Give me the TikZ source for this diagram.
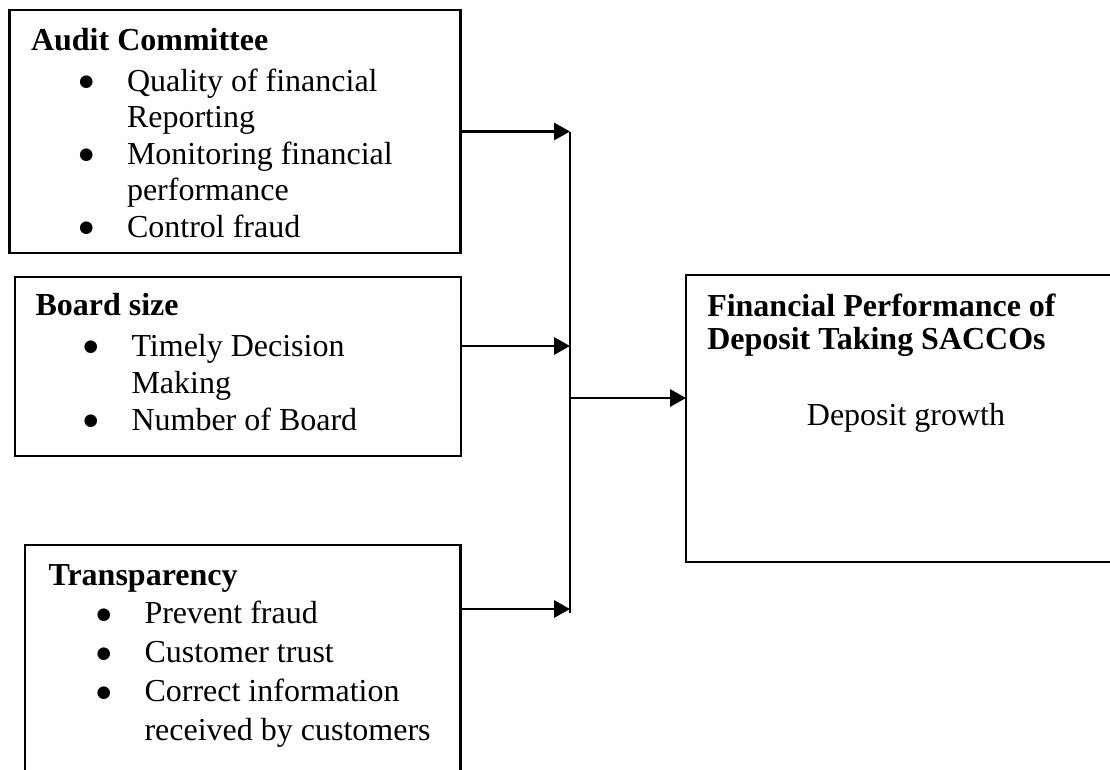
\documentclass[tikz,border=0pt]{standalone}
\usepackage{fontspec}
\setmainfont{Liberation Serif}
\newfontfamily\symfont{DejaVu Sans}
\usetikzlibrary{arrows.meta}
\newcommand{\bigbul}{\raisebox{1.6pt}{\symfont\fontsize{6.2}{6.2}\selectfont ●}}
\newcommand{\bul}[1]{\hspace*{18pt}\makebox[18pt][l]{\bigbul}#1}
\newcommand{\cont}[1]{\hspace*{36pt}#1}
\tikzset{
  box/.style={draw, line width=0.8pt, anchor=north west, outer sep=0pt, inner sep=0pt},
  txt/.style={anchor=base west, inner sep=0pt},
  arr/.style={line width=1.1pt, -{Triangle[length=6pt,width=6.4pt]}},
}
\begin{document}
\begin{tikzpicture}[x=0.375pt, y=-0.375pt, every node/.style={font=\fontsize{12}{13.7}\selectfont}]
  \clip (0,0) rectangle (1110,769);
  % left boxes
  \node[box, minimum width=169.1pt, minimum height=91.1pt] (audit) at (9.5,10) {};
  \node[box, minimum width=167.1pt, minimum height=67.1pt] (board) at (15,277) {};
  \node[box, minimum width=163.3pt, minimum height=95.6pt] (transp) at (25,545) {};
  \node[box, minimum width=159.8pt, minimum height=107.6pt] (perf) at (686,275) {};
  \node[txt] (auditTxt) at (30.5,50) {\parbox[t]{165pt}{\raggedright\fontsize{12}{13.7}\selectfont
    \textbf{Audit Committee}\\[1.7pt]
    \bul{Quality of financial}\\
    \cont{Reporting}\\
    \bul{Monitoring financial}\\
    \cont{performance}\\
    \bul{Control fraud}}};
  \node[txt] (boardTxt) at (35,315) {\parbox[t]{160pt}{\raggedright\fontsize{12}{13.9}\selectfont
    \textbf{Board size}\\[1.5pt]
    \bul{Timely Decision}\\
    \cont{Making}\\
    \bul{Number of Board}}};
  \node[txt] (transpTxt) at (48,585) {\parbox[t]{160pt}{\raggedright\fontsize{12}{14.6}\selectfont
    \textbf{Transparency}\\
    \bul{Prevent fraud}\\
    \bul{Customer trust}\\
    \bul{Correct information}\\
    \cont{received by customers}}};
  \node[txt] (perfTxt) at (706.7,316) {\parbox[t]{160pt}{\raggedright\fontsize{12}{12.5}\selectfont\bfseries
    Financial Performance of\\
    Deposit Taking SACCOs}};
  \node[anchor=base, inner sep=0pt] (growth) at (906,425) {Deposit growth};
  % connectors
  \coordinate (jA) at (570,131.5);
  \coordinate (jB) at (570,346);
  \coordinate (jC) at (570,609);
  \coordinate (jEnd) at (570,613);
  \coordinate (jOut) at (571,398);
  \draw[line width=0.8pt] (jA) -- (jEnd);
  \draw[arr] (audit.east) -- (jA);
  \draw[arr] (board.east |- jB) -- (jB);
  \draw[arr] (transp.east |- jC) -- (jC);
  \draw[arr] (jOut) -- (perf.west |- jOut);
\end{tikzpicture}
\end{document}
